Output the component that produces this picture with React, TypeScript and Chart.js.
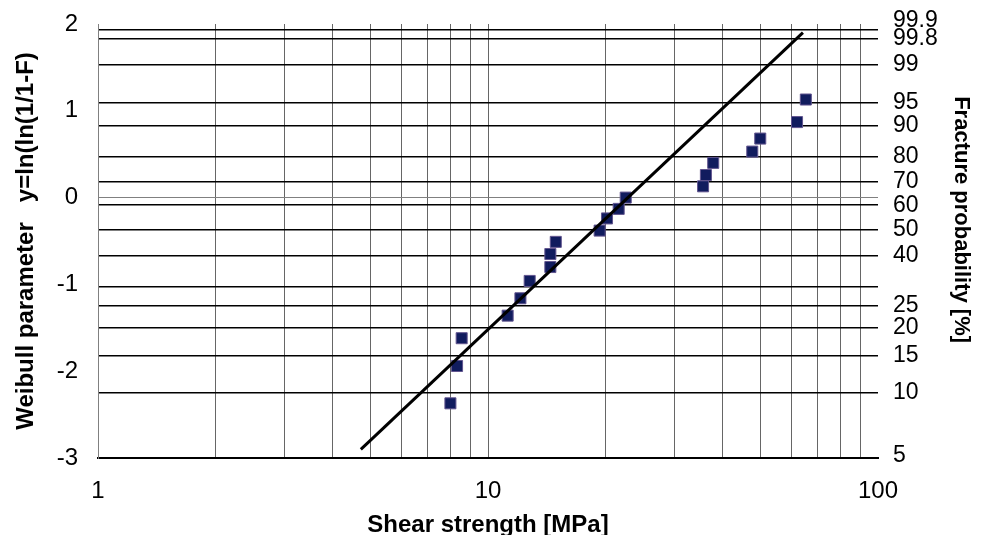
import React, { useEffect, useRef } from 'react';
import { Chart, registerables } from 'chart.js';

Chart.register(...registerables);

// Measured data points (shear strength in MPa, Weibull parameter y)
const strengthMPa = [8.01, 8.33, 8.56, 11.23, 12.11, 12.79, 14.45, 14.45, 14.92, 19.33, 20.19, 21.63, 22.55, 35.6, 36.2, 37.8, 47.6, 49.9, 62.0, 65.3];
const weibullY = [-2.37, -1.94, -1.62, -1.36, -1.16, -0.96, -0.8, -0.65, -0.51, -0.38, -0.24, -0.13, 0.0, 0.13, 0.26, 0.4, 0.53, 0.68, 0.87, 1.13];

// Fitted Weibull line end points
const fitX = [4.72, 64.2];
const fitY = [-2.9, 1.9];

// Axis ticks
const xGridTicks = [1, 2, 3, 4, 5, 6, 7, 8, 9, 10, 20, 30, 40, 50, 60, 70, 80, 90, 100];
const xLabelTicks = [1, 10, 100];
const leftTicks = [-3, -2, -1, 0, 1, 2];
const probPercent = [5, 10, 15, 20, 25, 30, 40, 50, 60, 70, 80, 90, 95, 99, 99.8, 99.9];
const probLabels = ['5', '10', '15', '20', '25', '', '40', '50', '60', '70', '80', '90', '95', '99', '99.8', '99.9'];

const probValues = probPercent.map((p) => Math.log(-Math.log(1 - p / 100)));

const FONT = "'Liberation Sans', Arial, sans-serif";
const CLEAR = 'rgba(0,0,0,0)';

const noPad = (s: any) => {
  s.paddingTop = 0;
  s.paddingBottom = 0;
  s.paddingLeft = 0;
  s.paddingRight = 0;
};

export default function App() {
  const ref = useRef<HTMLCanvasElement>(null);

  useEffect(() => {
    document.body.style.margin = '0';
    const canvas = ref.current;
    if (!canvas) return;
    Chart.defaults.font.family = FONT;
    Chart.defaults.color = '#000';

    const chart = new Chart(canvas, {
      type: 'scatter',
      data: {
        datasets: [
          {
            type: 'line',
            label: 'fit',
            data: fitX.map((x, i) => ({ x, y: fitY[i] })),
            borderColor: '#000',
            borderWidth: 3,
            pointRadius: 0,
            fill: false,
            yAxisID: 'y',
          } as any,
          {
            type: 'scatter',
            label: 'data',
            data: strengthMPa.map((x, i) => ({ x, y: weibullY[i] })),
            pointStyle: 'rect',
            pointRadius: 7.8,
            backgroundColor: '#111c5e',
            borderColor: '#62558f',
            borderWidth: 1,
            yAxisID: 'y',
          },
        ],
      },
      options: {
        responsive: false,
        animation: false,
        layout: { padding: { top: 24, left: 0, right: 0, bottom: 0 } },
        plugins: { legend: { display: false }, tooltip: { enabled: false } },
        scales: {
          x: {
            type: 'logarithmic',
            position: 'bottom',
            min: 1,
            max: 100,
            afterBuildTicks: (s: any) => {
              s.ticks = xGridTicks.map((v) => ({ value: v }));
            },
            afterFit: (s: any) => {
              s.height = 77;
              noPad(s);
            },
            ticks: {
              autoSkip: false,
              maxRotation: 0,
              padding: 19,
              font: { size: 24 },
              color: '#000',
              callback: (v: any) => (xLabelTicks.includes(Number(v)) ? String(v) : ''),
            },
            grid: {
              color: (c: any) => (c.tick && c.tick.value === 100 ? CLEAR : '#666'),
              lineWidth: 1,
              drawTicks: false,
            },
            border: { display: true, color: '#000', width: 2 },
            title: {
              display: true,
              text: 'Shear strength [MPa]',
              color: '#000',
              font: { size: 24, weight: 'bold', lineHeight: 0.77 },
              padding: { top: 0, bottom: 0 },
            },
          },
          y: {
            type: 'linear',
            position: 'left',
            min: -3,
            max: 2,
            afterBuildTicks: (s: any) => {
              s.ticks = leftTicks.map((v) => ({ value: v }));
            },
            afterFit: (s: any) => {
              s.width = 98;
              noPad(s);
            },
            ticks: {
              autoSkip: false,
              padding: 20,
              font: { size: 24 },
              color: '#000',
            },
            grid: {
              color: (c: any) => (c.tick && c.tick.value === 0 ? '#808080' : CLEAR),
              lineWidth: 1,
              drawTicks: false,
            },
            border: { display: true, color: '#808080', width: 1 },
            title: {
              display: true,
              text: 'Weibull parameter   y=ln(ln(1/1-F)',
              color: '#000',
              font: { size: 24, weight: 'bold' },
              padding: { top: 12, bottom: 0 },
            },
          },
          yR: {
            type: 'linear',
            position: 'right',
            min: -3,
            max: 2,
            afterBuildTicks: (s: any) => {
              s.ticks = probValues.map((v) => ({ value: v }));
            },
            afterFit: (s: any) => {
              s.width = 105;
              noPad(s);
            },
            ticks: {
              autoSkip: false,
              padding: 15,
              font: { size: 23, lineHeight: 0.78 },
              color: '#000',
              callback: (_v: any, i: number) => {
                const l = probLabels[i];
                return l === '99.9' ? [l, ''] : l;
              },
            },
            grid: {
              color: (c: any) => (probPercent[c.index] === 5 ? CLEAR : '#000'),
              lineWidth: 1.4,
              drawTicks: false,
            },
            border: { display: false },
            title: {
              display: true,
              text: 'Fracture probability [%]       ',
              color: '#000',
              font: { size: 22, weight: 'bold' },
              padding: { top: 9, bottom: 0 },
            },
          },
        },
      } as any,
    });

    return () => chart.destroy();
  }, []);

  return <canvas ref={ref} width={983} height={535} style={{ display: 'block' }} />;
}
